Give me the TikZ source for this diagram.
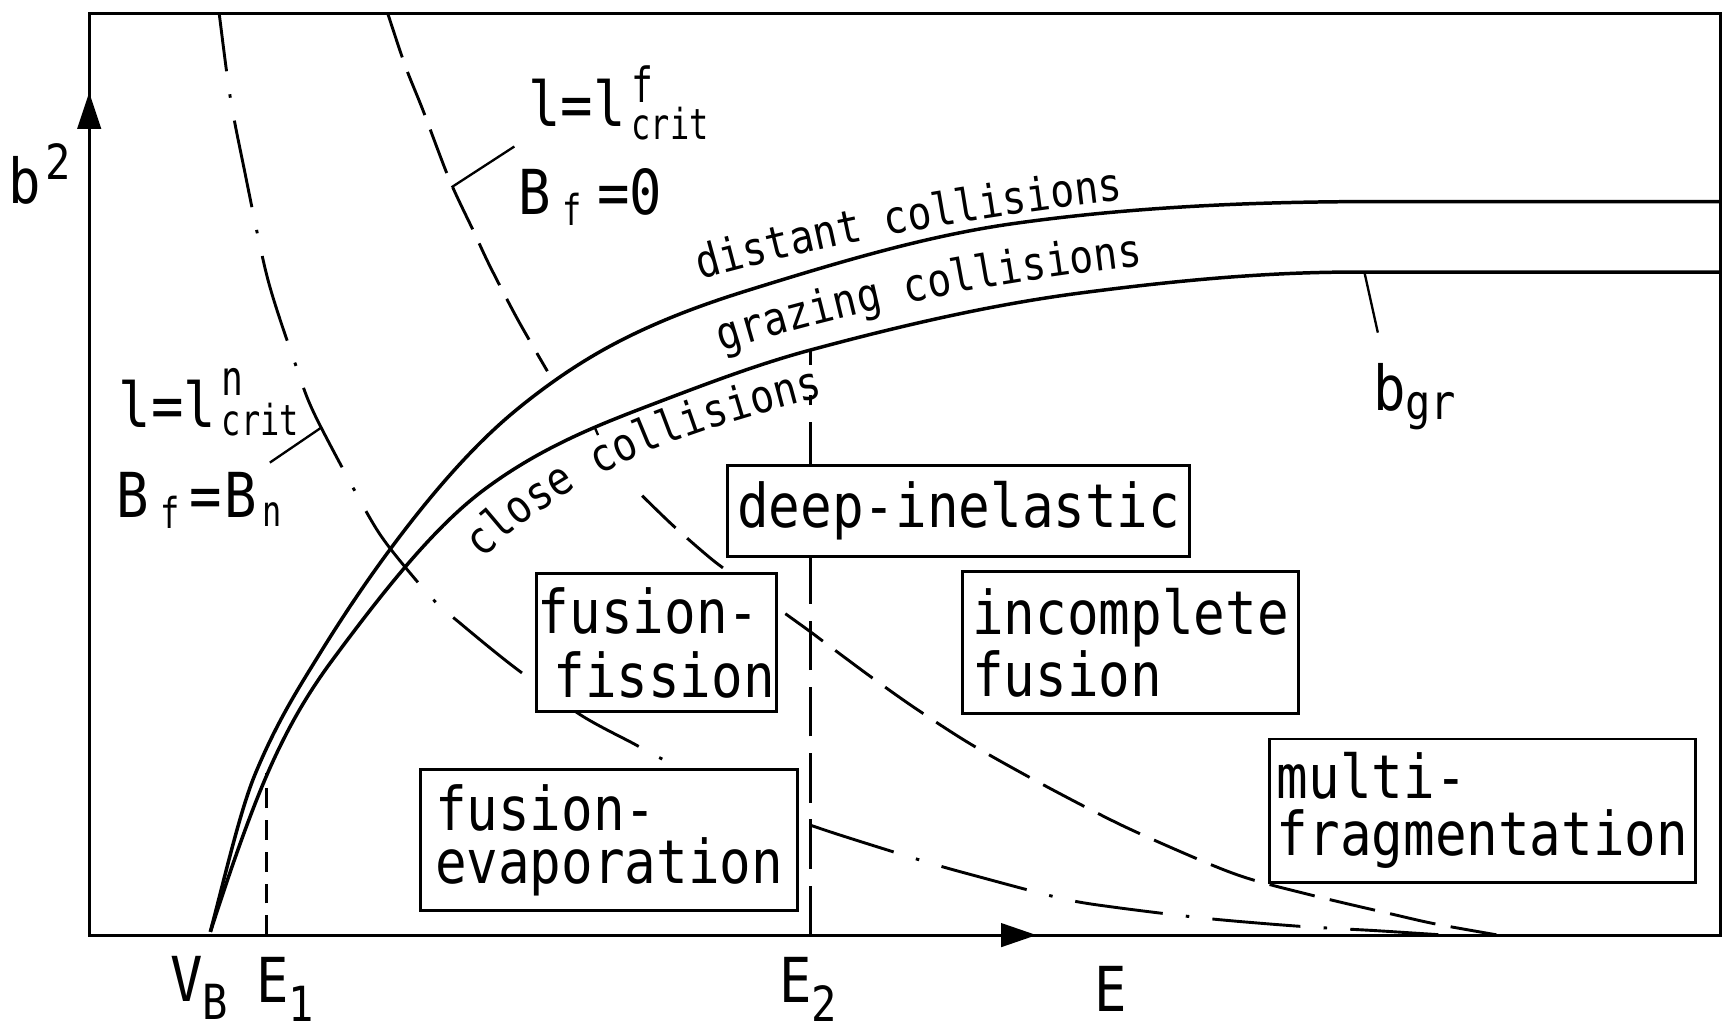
\documentclass[tikz,border=0pt]{standalone}
\usepackage{fontspec}
\setmainfont[FakeStretch=0.87]{DejaVu Sans Mono}
\newfontfamily\monofam[FakeStretch=0.87]{DejaVu Sans Mono}
\newfontfamily\monocond[FakeStretch=0.75]{DejaVu Sans Mono}
\usetikzlibrary{decorations.text}
\newcommand\bigtxt{\monofam\fontsize{16pt}{16pt}\selectfont}
\newcommand\boxtxt{\monofam\fontsize{15.6pt}{16pt}\selectfont}
\newcommand\curvetxt{\monofam\fontsize{11.8pt}{14pt}\selectfont}
\newcommand\subtxt{\monocond\fontsize{11pt}{13pt}\selectfont}
\newcommand\suptxt{\monocond\fontsize{12.5pt}{14pt}\selectfont}
\newcommand\midtxt{\monofam\fontsize{12.5pt}{14pt}\selectfont}
\begin{document}
\begin{tikzpicture}[x=0.01cm,y=-0.01cm,
  frame/.style={line width=0.75pt},
  solidcurve/.style={line width=0.9pt},
  dashdot/.style={line width=0.75pt, dash pattern=on 22.8pt off 6pt on 0.9pt off 6pt, dash phase=7.7pt},
  dashcurve/.style={line width=0.75pt, dash pattern=on 12pt off 4pt},
  etwoline/.style={line width=0.7pt, dash pattern=on 12.8pt off 4.3pt},
  eoneline/.style={line width=0.7pt, dash pattern=on 5.1pt off 3.1pt},
  procbox/.style={draw, line width=0.75pt, fill=white, inner sep=0pt, align=left},
  lab/.style={inner sep=0pt, anchor=base west},
  leader/.style={line width=0.6pt}
]
\useasboundingbox (0,0) rectangle (1568,935);

% named points
\coordinate (O) at (81,849);
\coordinate (ytop) at (81,12);
\coordinate (tr) at (1562,12);
\coordinate (br) at (1562,849);

% l = l_crit^n  (dash-dot)
\draw[dashdot] plot[smooth] coordinates {(199,12) (209,88) (221,150) (243,253) (269,333) (286,377) (330,460) (352,495) (392,543) (418,566) (466,605) (527,649) (575,675) (599,688) (650,713) (700,736) (753,755) (839,782) (885,795) (965,816) (1014,824) (1097,834) (1180,841) (1250,845) (1312,849)};

% l = l_crit^f (dashed)
\draw[dashcurve] plot[smooth] coordinates {(352,12) (368,60) (384,100) (408,163) (430,210) (445,242) (470,290) (497,337)};
\draw[leader] (540,388) -- (543,395);
\draw[dashcurve] plot[smooth] coordinates {(583,450) (612,478) (649,510) (680,532) (706,552) (735,573) (751,585) (790,614) (831,643) (882,676) (950,714) (1020,750) (1097,784) (1138,799) (1200,815) (1264,830) (1304,839) (1366,850)};

% E1 and E2 lines
\coordinate (E1b) at (242,849);
\coordinate (E1t) at (242,702);
\draw[eoneline] (E1b) -- (E1t);
\coordinate (E2b) at (736,849);
\coordinate (E2t) at (736,359);
\draw[leader] (736,318) -- (736,331);
\draw[etwoline] (E2b) -- (E2t);

% solid curves: b(distant/grazing) and b_gr
\draw[solidcurve] (191,846) .. controls (204.7,794.1) and (218.3,734.8) .. (232,702)
  .. controls (251.3,655.6) and (270.7,625.3) .. (290,594)
  .. controls (311.3,559.4) and (332.7,527.8) .. (354,499)
  .. controls (392.3,447.3) and (430.7,403.4) .. (469,372)
  .. controls (499.3,347.1) and (529.7,326.8) .. (560,311)
  .. controls (600.3,290) and (640.7,275.5) .. (681,263)
  .. controls (760.7,238.3) and (840.3,214.2) .. (920,203)
  .. controls (1030,187.6) and (1140,183) .. (1250,183)
  -- (1562,183);
\draw[solidcurve] (191,846) .. controls (208.3,792.3) and (225.7,741.9) .. (243,702)
  .. controls (262.7,656.8) and (282.3,625.6) .. (302,599)
  .. controls (347.7,537.3) and (393.3,479.3) .. (439,445)
  .. controls (489.3,407.3) and (539.7,387.1) .. (590,368)
  .. controls (638.3,349.6) and (686.7,331.05) .. (735,318)
  .. controls (817,295.9) and (899,276.7) .. (981,266)
  .. controls (1064,255.2) and (1147,247) .. (1230,247)
  -- (1562,247);

% frame and axes
\draw[frame] (O) -- (ytop) -- (tr) -- (br) -- cycle;
\fill (81,84) -- (70,117) -- (92,117) -- cycle;
\fill (941,849) -- (909,838) -- (909,860) -- cycle;

% leaders
\draw[leader] (410,170) -- (467,133);
\draw[leader] (245,420) -- (292,388);
\draw[leader] (1239,248) -- (1251,302);

% boxes
\node[procbox, minimum width=4.19cm, minimum height=0.82cm, font=\boxtxt] (deep) at (870.5,464) {deep-inelastic};
\node[procbox, minimum width=2.18cm, minimum height=1.25cm, font={\monofam\fontsize{15.6pt}{16.5pt}\selectfont}] (ff) at (596,583.5) {fusion-\\\hspace*{4pt}fission};
\node[procbox, minimum width=3.05cm, minimum height=1.29cm, font={\monofam\fontsize{15.6pt}{16.2pt}\selectfont}] (inc) at (1026.5,583.5) {incomplete\\fusion};
\node[procbox, minimum width=3.42cm, minimum height=1.28cm, font={\monofam\fontsize{15.6pt}{13.6pt}\selectfont}] (fe) at (553,763) {fusion-\\evaporation};
\node[procbox, minimum width=3.86cm, minimum height=1.30cm, font={\monofam\fontsize{15.6pt}{14.8pt}\selectfont}] (mf) at (1346,736) {multi-\\fragmentation};

% curve labels
\path[decorate, decoration={text along path, text={|\curvetxt|distant collisions}, text align=left}]
  (636,254) .. controls (786,212) and (950,186) .. (1100,174);
\path[decorate, decoration={text along path, text={|\curvetxt|grazing collisions}, text align=left}]
  (655,319) .. controls (835,263) and (1020,237) .. (1200,228);
\path[decorate, decoration={text along path, text={|\curvetxt|close collisions}, text align=left}]
  (438,508) .. controls (538,408) and (679,377) .. (809,345);

% text labels
\node[lab] (b2) at (7,185) {\bigtxt b\kern1.2pt\raisebox{0.22cm}{\midtxt 2}};
\node[lab] (lf) at (479,115) {\bigtxt l=l\kern1.5pt\rlap{\raisebox{0.22cm}{\suptxt f}}\raisebox{-0.12cm}{\subtxt crit}};
\node[lab] (bf0) at (470,195) {\bigtxt B\kern3pt\raisebox{-0.1cm}{\subtxt f}\kern4pt=0};
\node[lab] (ln) at (107,388) {\bigtxt l=l\kern1.5pt\rlap{\raisebox{0.29cm}{\suptxt n}}\raisebox{-0.07cm}{\subtxt crit}};
\node[lab] (bfbn) at (105,470) {\bigtxt B\kern3pt\raisebox{-0.1cm}{\subtxt f}\kern2.5pt=\kern0.7pt B\kern1.5pt\raisebox{-0.08cm}{\subtxt n}};
\node[lab] (bgr) at (1246,373) {\bigtxt b\raisebox{-0.08cm}{\midtxt gr}};
\node[lab] (vb) at (154,909) {\bigtxt V\raisebox{-0.17cm}{\midtxt B}};
\node[lab] (e1) at (232,910) {\bigtxt E\raisebox{-0.17cm}{\midtxt 1}};
\node[lab] (e2) at (707,910) {\bigtxt E\raisebox{-0.17cm}{\midtxt 2}};
\node[lab] (ee) at (993,918) {\bigtxt E};
\end{tikzpicture}
\end{document}
